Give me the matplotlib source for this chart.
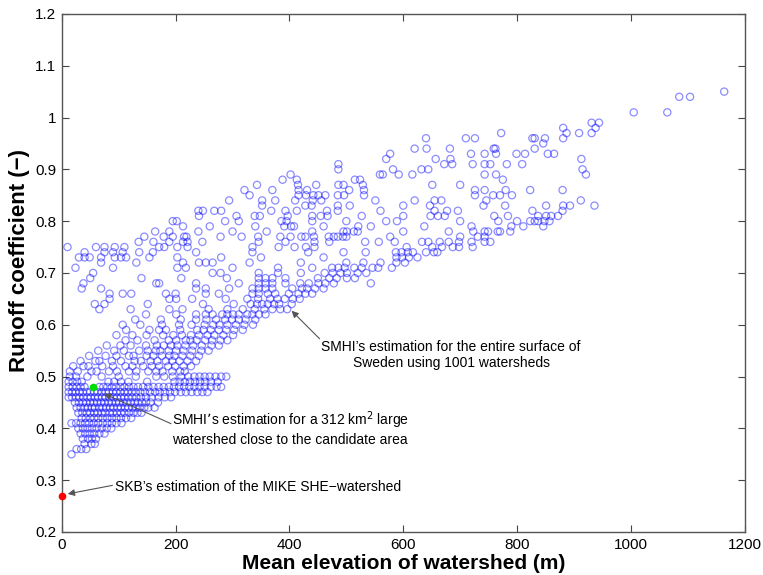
import matplotlib
matplotlib.use("Agg")
import matplotlib.pyplot as plt
from matplotlib import font_manager

# ---------------- data ----------------
# each entry: (runoff coefficient, [mean elevations of watersheds with that coefficient])
wedge = [
    (0.35, [17]),
    (0.36, [26, 34, 43]),
    (0.37, [40, 52, 58]),
    (0.38, [37, 46, 53, 60]),
    (0.39, [33, 41, 49, 57, 66, 75]),
    (0.40, [29, 37, 45, 53, 61, 70, 79, 87]),
    (0.41, [17, 25, 33, 41, 48, 56, 64, 72, 80, 88, 96, 105]),
    (0.42, [35, 42, 50, 57, 64, 72, 80, 88, 96, 104, 113, 122]),
    (0.43, [29, 36, 44, 50, 57, 63, 70, 76, 84, 90, 97, 104, 110, 118, 126, 133, 140]),
]
band = [
    (0.44, [26, 33, 40, 46, 53, 58, 66, 72, 78, 85, 91, 98, 104, 111, 117, 124, 130, 137, 145, 152, 163]),
    (0.45, [23, 30, 37, 43, 50, 56, 62, 69, 75, 82, 88, 95, 101, 108, 114, 121, 128, 134, 141, 148, 156, 169]),
    (0.46, [12, 18, 25, 31, 38, 45, 51, 58, 64, 71, 77, 84, 91, 97, 104, 110, 117, 124, 131, 139, 148, 158,
            170, 181, 192]),
    (0.47, [12, 18, 24, 31, 37, 44, 50, 57, 63, 70, 77, 83, 90, 96, 103, 110, 116, 123, 130, 138, 146, 155,
            164, 172, 181, 190, 199, 209, 218, 228, 238, 247, 256]),
    (0.48, [12, 19, 26, 33, 40, 66, 73, 80, 88, 95, 103, 110, 118, 126, 134, 143, 152, 161, 170, 179, 188,
            197, 206, 215, 224, 233, 242, 251, 262, 272, 280]),
    (0.49, [12, 19, 27, 35, 82, 92, 104, 117, 150, 198, 207, 216, 225, 234, 243, 252, 262, 274]),
    (0.50, [14, 25, 45, 70, 100, 130, 166, 180, 195, 210, 222, 233, 242, 251, 260, 270, 280, 289]),
]
middle = [
    (0.51, [14, 28, 52, 61, 83, 97, 118, 131, 152, 166, 177, 194, 208, 216]),
    (0.52, [20, 38, 47, 71, 90, 112, 124, 143, 158, 171, 187, 199, 214, 227]),
    (0.53, [33, 59, 66, 88, 104, 128, 139, 156, 168, 183, 194, 207, 221, 236]),
    (0.54, [48, 77, 96, 118, 126, 149, 161, 176, 189, 198, 212, 226, 241]),
    (0.55, [64, 92, 109, 136, 151, 165, 173, 188, 201, 214, 229, 245, 258]),
    (0.56, [79, 103, 121, 148, 167, 179, 192, 203, 217, 231, 246, 263, 276]),
    (0.57, [112, 133, 163, 188, 201, 218, 226, 237, 252, 264, 279, 291]),
    (0.58, [96, 124, 149, 178, 196, 211, 227, 241, 256, 268, 284, 301]),
    (0.59, [113, 154, 171, 183, 208, 238, 249, 262, 276, 289, 303, 318]),
    (0.60, [107, 138, 176, 206, 228, 251, 266, 277, 291, 306, 321, 336]),
    (0.61, [129, 174, 209, 236, 254, 271, 287, 299, 311, 323, 340]),
    (0.62, [148, 201, 236, 253, 265, 282, 291, 301, 311, 326, 335, 346, 358]),
    (0.63, [66, 121, 189, 212, 258, 291, 318, 339, 356, 370, 384, 396]),
    (0.64, [58, 75, 151, 248, 302, 332, 343, 352, 362, 373, 382, 404]),
    (0.65, [84, 189, 201, 229, 288, 326, 345, 366, 379, 392, 406, 418]),
    (0.66, [84, 107, 122, 183, 200, 253, 276, 335, 346, 362, 375, 399, 416, 428, 440]),
    (0.67, [35, 69, 236, 253, 294, 335, 346, 358, 370, 405, 422, 431, 445, 460]),
    (0.68, [38, 166, 171, 236, 311, 346, 358, 370, 393, 419, 434, 451, 463, 478, 543]),
    (0.69, [50, 140, 210, 290, 346, 358, 370, 393, 450, 470, 483, 501, 515]),
    (0.70, [55, 265, 279, 346, 380, 420, 462, 476, 490, 501, 520, 535]),
    (0.71, [24, 90, 203, 218, 300, 380, 440, 475, 486, 497, 514, 527, 546, 556, 580]),
    (0.72, [69, 131, 213, 241, 253, 265, 330, 420, 500, 530, 560, 588, 603]),
    (0.73, [30, 40, 49, 69, 93, 104, 113, 154, 203, 280, 350, 460, 588, 598, 610, 625]),
    (0.74, [40, 75, 90, 107, 136, 160, 236, 335, 433, 495, 534, 587, 597, 608, 617, 640, 654, 660]),
    (0.75, [10, 60, 75, 93, 110, 171, 180, 203, 221, 335, 381, 409, 429, 444, 606, 651, 668, 687, 698, 722]),
]
upper = [
    (0.76, [135, 161, 189, 213, 221, 247, 346, 393, 444, 470, 533, 557, 585, 633, 644, 664, 680, 698, 720,
            743, 753]),
    (0.77, [145, 179, 195, 215, 219, 279, 316, 345, 384, 402, 421, 428, 443, 469, 478, 485, 494, 500, 577,
            700, 731, 743]),
    (0.78, [164, 189, 240, 300, 360, 440, 495, 501, 513, 520, 600, 680, 723, 743, 749, 766, 770, 788]),
    (0.79, [213, 260, 340, 391, 403, 408, 460, 521, 543, 637, 720, 790, 811, 846]),
    (0.80, [195, 202, 287, 311, 386, 395, 440, 500, 570, 589, 700, 767, 800, 823, 831, 837, 848, 857]),
    (0.81, [241, 307, 339, 348, 397, 440, 455, 467, 527, 600, 648, 661, 673, 760, 784, 837, 851, 860, 872]),
    (0.82, [240, 248, 268, 280, 368, 393, 413, 466, 485, 560, 655, 677, 696, 827, 880]),
    (0.83, [352, 428, 439, 485, 506, 600, 647, 741, 779, 851, 881, 893, 936]),
    (0.84, [294, 352, 375, 410, 441, 456, 551, 620, 655, 667, 746, 912]),
    (0.85, [330, 416, 429, 442, 451, 463, 485, 496, 531, 726, 758, 770, 791]),
    (0.86, [321, 370, 416, 431, 505, 531, 726, 743, 780, 823, 880]),
    (0.87, [343, 415, 447, 486, 495, 529, 651, 700]),
    (0.88, [388, 413, 515, 524, 775]),
    (0.89, [402, 559, 564, 592, 616, 743, 763, 921]),
    (0.90, [486, 582, 632, 644, 915]),
    (0.91, [486, 672, 686, 722, 743, 753, 782, 809]),
    (0.92, [570, 657, 683, 913]),
    (0.93, [577, 719, 743, 763, 799, 814, 854, 865]),
    (0.94, [620, 641, 682, 759, 762, 831]),
    (0.95, [846]),
    (0.96, [640, 710, 726, 827, 831, 849, 881]),
    (0.97, [772, 887, 909, 931]),
    (0.98, [881, 938]),
    (0.99, [931, 944]),
    (1.01, [1005, 1064]),
    (1.04, [1085, 1104]),
    (1.05, [1164]),
]
smhi_local = (55, 0.48)     # green point
skb_point = (0, 0.27)       # red point

xticks = [0, 200, 400, 600, 800, 1000, 1200]
yticks = [0.2, 0.3, 0.4, 0.5, 0.6, 0.7, 0.8, 0.9, 1.0, 1.1, 1.2]
ytick_labels = ["0.2", "0.3", "0.4", "0.5", "0.6", "0.7", "0.8", "0.9", "1", "1.1", "1.2"]

# ---------------- plotting ----------------
xs, ys = [], []
for group in (wedge, band, middle, upper):
    for yv, xlist in group:
        for xv in xlist:
            xs.append(xv)
            ys.append(yv)

names = {f.name for f in font_manager.fontManager.ttflist}
base_font = "Liberation Sans" if "Liberation Sans" in names else "DejaVu Sans"
label_font = "Liberation Sans Narrow" if "Liberation Sans Narrow" in names else base_font
plt.rcParams["font.family"] = [base_font, "DejaVu Sans"]

fig = plt.figure(figsize=(7.63, 5.75), dpi=100)
ax = fig.add_axes([0.081, 0.0748, 0.895, 0.901])

ax.scatter(xs, ys, s=27, facecolors="none", edgecolors="blue", alpha=0.45, linewidths=0.9, zorder=2)
ax.plot([smhi_local[0]], [smhi_local[1]], "o", color="#00dd00", ms=4.5, zorder=4)
ax.plot([skb_point[0]], [skb_point[1]], "o", color="red", ms=4.5, zorder=4, clip_on=False)

ax.set_xlim(0, 1200)
ax.set_ylim(0.2, 1.2)
ax.set_xticks(xticks)
ax.set_xticklabels([str(t) for t in xticks])
ax.set_yticks(yticks)
ax.set_yticklabels(ytick_labels)
ax.tick_params(direction="in", length=5, width=0.8, top=True, right=True,
               labelsize=11, colors="#444444", labelcolor="black", pad=4)
for sp in ax.spines.values():
    sp.set_color("#555555")
    sp.set_linewidth(1.0)

ax.set_xlabel("Mean elevation of watershed (m)", fontsize=15, fontweight="bold",
              family=[label_font, "DejaVu Sans"], labelpad=2)
ax.set_ylabel("Runoff coefficient (\u2212)", fontsize=16, fontweight="bold",
              family=[label_font, "DejaVu Sans"])
ax.yaxis.set_label_coords(-0.046, 0.525)

arrow = dict(arrowstyle="-|>", color="#555555", lw=0.8, mutation_scale=10, shrinkA=0, shrinkB=1)
ax.text(684, 0.542, "SMHI\u2019s estimation for the entire surface of\nSweden using 1001 watersheds",
        ha="center", va="center", fontsize=10, linespacing=1.2)
ax.annotate("", xy=(402, 0.629), xytext=(453, 0.573), arrowprops=arrow)

ax.text(194, 0.401, "SMHI\u2019s estimation for a 312 km$^2$ large\nwatershed close to the candidate area",
        ha="left", va="center", fontsize=10, linespacing=1.2)
ax.annotate("", xy=(72, 0.468), xytext=(192, 0.409), arrowprops=arrow)

ax.text(93, 0.287, "SKB\u2019s estimation of the MIKE SHE\u2212watershed",
        ha="left", va="center", fontsize=10)
ax.annotate("", xy=(8, 0.273), xytext=(89, 0.290), arrowprops=arrow)

fig.savefig("out.png", dpi=100)
